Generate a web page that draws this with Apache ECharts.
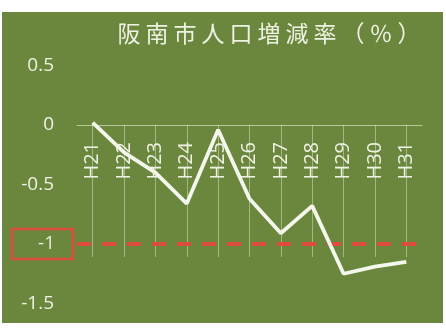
<!DOCTYPE html>
<html>
<head>
<meta charset="utf-8">
<script src="https://cdn.jsdelivr.net/npm/echarts@6/dist/echarts.min.js"></script>
<style>
html,body{margin:0;padding:0;background:#ffffff;width:446px;height:328px;overflow:hidden;}
#chart{position:absolute;left:2px;top:12px;width:441px;height:311px;}
</style>
</head>
<body>
<div id="chart"></div>
<script>
var titleText = '阪南市人口増減率（％）';
var categories = ['H21','H22','H23','H24','H25','H26','H27','H28','H29','H30','H31'];
var rates = [0.02, -0.23, -0.40, -0.66, -0.04, -0.62, -0.91, -0.68, -1.25, -1.19, -1.15];
var yTicks = [0.5, 0, -0.5, -1, -1.5];
var yMin = -1.5, yMax = 0.5, yStep = 0.5;
var refLine = -1;

var textColor = '#eef2e2';
var titleRich = Array.from(titleText).map(function (ch) { return '{c|' + ch + '}'; }).join('');
var chart = echarts.init(document.getElementById('chart'), null, {renderer: 'canvas'});
var option = {
  backgroundColor: '#6b863d',
  animation: false,
  title: {
    text: titleRich,
    left: 113,
    top: 10,
    padding: 0,
    textStyle: {
      color: textColor, fontSize: 23, fontWeight: 'normal', fontFamily: 'Noto Sans CJK JP',
      rich: {c: {width: 28, align: 'center', color: textColor, fontSize: 23, fontFamily: 'Noto Sans CJK JP'}}
    }
  },
  grid: {left: 75, right: 21, top: 53.5, bottom: 19.5, containLabel: false, outerBoundsMode: 'none'},
  xAxis: {
    type: 'category',
    data: categories,
    boundaryGap: true,
    position: 'bottom',
    offset: 0,
    axisLine: {onZero: false, lineStyle: {color: 'rgba(235,242,220,0.6)', width: 1}},
    axisTick: {show: true, alignWithLabel: true, length: 132, inside: false,
      lineStyle: {color: 'rgba(235,242,220,0.45)', width: 1}},
    axisLabel: {rotate: 90, margin: 17, color: textColor, fontSize: 20, fontFamily: 'Open Sans'},
    splitLine: {show: false}
  },
  yAxis: {
    type: 'value',
    min: yMin,
    max: yMax,
    interval: yStep,
    axisLine: {show: false},
    axisTick: {show: false},
    splitLine: {show: false},
    axisLabel: {
      margin: 23,
      color: textColor,
      fontSize: 19,
      fontFamily: 'Open Sans',
      padding: [6, 0, 0, 0],
      formatter: function (v) {
        if (yTicks.indexOf(v) < 0) return '';
        if (v === refLine) return '';
        return String(v);
      }
    }
  },
  series: [{
    type: 'line',
    data: rates,
    symbol: 'none',
    lineStyle: {color: '#f4f8ec', width: 3.8},
    z: 3,
    markLine: {
      silent: true,
      symbol: ['none', 'none'],
      data: [{yAxis: refLine}],
      lineStyle: {color: '#e4493d', width: 4, type: [14, 11], opacity: 0.95},
      label: {
        show: true,
        position: 'start',
        distance: 4,
        formatter: String(refLine),
        color: textColor,
        fontSize: 19,
        fontFamily: 'Open Sans',
        borderColor: '#e4493d',
        borderWidth: 2.5,
        padding: [6, 18, 5, 26]
      },
      z: 2
    }
  }]
};
chart.setOption(option);
// move the category axis (line, ticks and labels) up to the zero line
var zeroY = chart.convertToPixel({yAxisIndex: 0}, 0);
var bottomY = chart.convertToPixel({yAxisIndex: 0}, yMin);
chart.setOption({xAxis: {offset: zeroY - bottomY}});
</script>
</body>
</html>
